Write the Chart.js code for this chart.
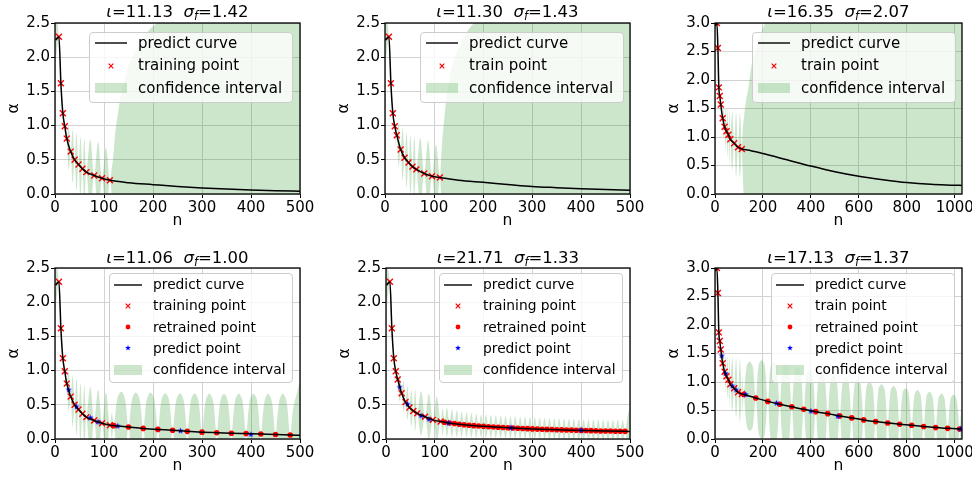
<!DOCTYPE html>
<html>
<head>
<meta charset="utf-8">
<title>GP fits of alpha vs n</title>
<script src="https://cdn.jsdelivr.net/npm/chart.js@4.4.1/dist/chart.umd.min.js"></script>
<style>
  html, body { margin:0; padding:0; background:#fff; }
  body { width:972px; height:477px; overflow:hidden; position:relative; font-family:"DejaVu Sans", sans-serif; }
  canvas.cv { position:absolute; }
  .ttl { position:absolute; text-align:center; font-size:16.5px; line-height:20px; color:#000; white-space:nowrap; }
  .ttl i { font-style:italic; }
  .ttl .sb { font-size:11.5px; position:relative; top:3px; font-style:italic; }
  .lg { position:absolute; box-sizing:border-box; background:rgba(255,255,255,0.8); border:1px solid #cccccc; border-radius:4px; }
  .lg .row { position:absolute; left:0; width:100%; white-space:nowrap; color:#000; }
  .lg svg { position:absolute; }
  .lg span { position:absolute; }
</style>
</head>
<body>
<script>
// ---------------- DATA ----------------
const iotaVals  = ['11.13', '11.30', '16.35', '11.06', '21.71', '17.13'];
const sigmaVals = ['1.42', '1.43', '2.07', '1.00', '1.33', '1.37'];

const legend1 = ['predict curve', 'training point', 'confidence interval'];
const legend2 = ['predict curve', 'train point', 'confidence interval'];
const legend3 = ['predict curve', 'train point', 'confidence interval'];
const legend4 = ['predict curve', 'training point', 'retrained point', 'predict point', 'confidence interval'];
const legend5 = ['predict curve', 'training point', 'retrained point', 'predict point', 'confidence interval'];
const legend6 = ['predict curve', 'train point', 'retrained point', 'predict point', 'confidence interval'];

const xTicks500  = [0, 100, 200, 300, 400, 500];
const xTicks1000 = [0, 200, 400, 600, 800, 1000];
const yTicks25   = [0, 0.5, 1.0, 1.5, 2.0, 2.5];
const yTicks30   = [0, 0.5, 1.0, 1.5, 2.0, 2.5, 3.0];

const trainN = [8, 12, 16, 20, 24, 32, 40, 48, 56, 64, 80, 96, 112];

// Panel 1
const curveN1 = [1, 8, 12, 16, 20, 24, 32, 40, 48, 56, 64, 80, 96, 112, 150, 200, 250, 300, 350, 400, 450, 500];
const curveA1 = [2.25, 2.30, 1.62, 1.18, 0.99, 0.81, 0.62, 0.50, 0.43, 0.37, 0.32, 0.27, 0.23, 0.20, 0.165, 0.137, 0.11, 0.088, 0.072, 0.059, 0.048, 0.04];
const trainA1 = [2.30, 1.62, 1.18, 0.99, 0.81, 0.62, 0.50, 0.43, 0.37, 0.32, 0.27, 0.23, 0.20];
const bandN1  = [1, 8, 10, 12, 14, 16, 18, 20, 22, 24, 28, 32, 36, 40, 44, 48, 52, 56, 60, 64, 72, 80, 88, 96, 104, 112, 116, 119, 123, 128, 133, 141, 150, 162, 174, 190, 208, 260, 350, 500];
const bandHi1 = [2.75, 2.30, 2.05, 1.62, 1.48, 1.18, 1.14, 0.99, 1.00, 0.81, 1.00, 0.62, 0.94, 0.50, 0.89, 0.43, 0.84, 0.37, 0.80, 0.32, 0.80, 0.27, 0.76, 0.23, 0.68, 0.20, 0.38, 0.55, 0.90, 1.15, 1.38, 1.65, 1.87, 2.07, 2.20, 2.38, 2.50, 2.80, 3.20, 3.70];
const bandLo1 = [1.90, 2.30, 1.85, 1.62, 1.28, 1.18, 1.00, 0.99, 0.80, 0.81, 0.35, 0.62, 0.16, 0.50, 0.05, 0.43, -0.05, 0.37, -0.10, 0.32, -0.20, 0.27, -0.25, 0.23, -0.30, 0.20, 0.00, -0.20, -0.45, -0.70, -0.95, -1.25, -1.50, -1.80, -2.00, -2.20, -2.40, -2.80, -3.20, -3.70];

// Panel 2
const curveN2 = [1, 8, 12, 16, 20, 24, 32, 40, 48, 56, 64, 80, 96, 112, 150, 200, 250, 300, 350, 400, 450, 500];
const curveA2 = [2.25, 2.30, 1.62, 1.18, 0.99, 0.86, 0.65, 0.53, 0.46, 0.40, 0.36, 0.30, 0.26, 0.24, 0.20, 0.17, 0.14, 0.11, 0.093, 0.078, 0.065, 0.054];
const trainA2 = [2.30, 1.62, 1.18, 0.99, 0.86, 0.65, 0.53, 0.46, 0.40, 0.36, 0.30, 0.26, 0.24];
const bandN2  = [1, 8, 10, 12, 14, 16, 18, 20, 22, 24, 28, 32, 36, 40, 44, 48, 52, 56, 60, 64, 72, 80, 88, 96, 104, 112, 114, 117, 121, 125, 131, 137, 145, 154, 167, 182, 230, 350, 500];
const bandHi2 = [2.75, 2.30, 2.05, 1.62, 1.48, 1.18, 1.14, 0.99, 1.02, 0.86, 1.02, 0.65, 0.96, 0.53, 0.90, 0.46, 0.86, 0.40, 0.83, 0.36, 0.82, 0.30, 0.78, 0.26, 0.72, 0.24, 0.45, 0.80, 1.10, 1.38, 1.65, 1.87, 2.05, 2.20, 2.37, 2.50, 2.80, 3.30, 3.80];
const bandLo2 = [1.90, 2.30, 1.85, 1.62, 1.28, 1.18, 1.00, 0.99, 0.72, 0.86, 0.40, 0.65, 0.20, 0.53, 0.10, 0.46, 0.00, 0.40, -0.05, 0.36, -0.15, 0.30, -0.20, 0.26, -0.25, 0.24, 0.05, -0.20, -0.45, -0.70, -1.00, -1.30, -1.60, -1.80, -2.00, -2.20, -2.60, -3.20, -3.70];

// Panel 3
const curveN3 = [1, 8, 12, 16, 20, 24, 32, 40, 48, 56, 64, 80, 96, 112, 150, 200, 300, 400, 500, 600, 700, 800, 900, 1000, 1030];
const curveA3 = [2.95, 3.00, 2.56, 1.87, 1.72, 1.57, 1.33, 1.18, 1.10, 1.04, 0.96, 0.89, 0.82, 0.79, 0.76, 0.71, 0.60, 0.49, 0.39, 0.31, 0.25, 0.20, 0.17, 0.155, 0.15];
const trainA3 = [3.00, 2.56, 1.87, 1.72, 1.57, 1.33, 1.18, 1.10, 1.04, 0.96, 0.89, 0.82, 0.79];
const bandN3  = [1, 8, 10, 12, 14, 16, 18, 20, 22, 24, 28, 32, 36, 40, 44, 48, 52, 56, 60, 64, 72, 80, 88, 96, 104, 112, 114, 117, 121, 126, 131, 138, 145, 152, 165, 179, 195, 210, 300, 600, 1030];
const bandHi3 = [3.20, 3.00, 2.85, 2.56, 2.25, 1.87, 1.85, 1.72, 1.70, 1.57, 1.62, 1.33, 1.55, 1.18, 1.52, 1.10, 1.50, 1.04, 1.47, 0.96, 1.45, 0.89, 1.43, 0.82, 1.42, 0.79, 1.00, 1.20, 1.35, 1.55, 1.68, 1.82, 2.05, 2.24, 2.47, 2.65, 2.85, 3.00, 3.50, 4.20, 4.60];
const bandLo3 = [2.80, 3.00, 2.70, 2.56, 2.10, 1.87, 1.75, 1.72, 1.60, 1.57, 1.28, 1.33, 0.95, 1.18, 0.78, 1.10, 0.65, 1.04, 0.52, 0.96, 0.42, 0.89, 0.30, 0.82, 0.30, 0.79, 0.55, 0.20, -0.10, -0.30, -0.50, -0.70, -0.90, -1.10, -1.30, -1.50, -1.70, -1.90, -2.50, -3.50, -4.00];

// Panel 4
const curveN4 = [1, 8, 12, 16, 20, 24, 32, 40, 48, 56, 64, 80, 96, 112, 120, 150, 180, 210, 240, 270, 300, 330, 360, 390, 420, 450, 480, 500];
const curveA4 = [2.25, 2.30, 1.62, 1.18, 0.99, 0.81, 0.62, 0.50, 0.43, 0.37, 0.32, 0.27, 0.23, 0.20, 0.195, 0.175, 0.155, 0.14, 0.128, 0.112, 0.10, 0.092, 0.085, 0.079, 0.073, 0.066, 0.058, 0.053];
const trainA4 = [2.30, 1.62, 1.18, 0.99, 0.81, 0.62, 0.50, 0.43, 0.37, 0.32, 0.27, 0.23, 0.20];
const retrainN4 = [120, 150, 180, 210, 240, 270, 300, 330, 360, 390, 420, 450, 480];
const retrainA4 = [0.195, 0.175, 0.155, 0.14, 0.128, 0.112, 0.10, 0.092, 0.085, 0.079, 0.073, 0.066, 0.058];
const predictN4 = [28, 44, 72, 88, 128, 256, 400];
const predictA4 = [0.72, 0.47, 0.31, 0.25, 0.19, 0.12, 0.068];
const bandN4  = [1, 8, 10, 12, 14, 16, 18, 20, 22, 24, 28, 32, 36, 40, 44, 48, 52, 56, 60, 64, 72, 80, 88, 96, 104, 112, 116, 486, 493, 500];
const bandHi4 = [2.75, 2.30, 2.05, 1.62, 1.48, 1.18, 1.14, 0.99, 1.00, 0.81, 0.98, 0.62, 0.92, 0.50, 0.88, 0.43, 0.82, 0.37, 0.78, 0.32, 0.76, 0.27, 0.72, 0.23, 0.68, 0.20, 0.38, 0.45, 0.65, 0.85];
const bandLo4 = [1.90, 2.30, 1.85, 1.62, 1.28, 1.18, 1.00, 0.99, 0.80, 0.81, 0.40, 0.62, 0.18, 0.50, 0.05, 0.43, -0.05, 0.37, -0.10, 0.32, -0.20, 0.27, -0.25, 0.23, -0.28, 0.20, 0.02, -0.35, -0.55, -0.75];
const lobeN4  = [127.5, 135, 142.5, 157.5, 165, 172.5, 187.5, 195, 202.5, 217.5, 225, 232.5, 247.5, 255, 262.5, 277.5, 285, 292.5, 307.5, 315, 322.5, 337.5, 345, 352.5, 367.5, 375, 382.5, 397.5, 405, 412.5, 427.5, 435, 442.5, 457.5, 465, 472.5];
const lobeHi4 = [0.60, 0.69, 0.60, 0.59, 0.68, 0.59, 0.58, 0.68, 0.58, 0.58, 0.67, 0.58, 0.57, 0.67, 0.57, 0.57, 0.67, 0.57, 0.56, 0.66, 0.56, 0.56, 0.66, 0.56, 0.56, 0.66, 0.56, 0.56, 0.66, 0.56, 0.55, 0.66, 0.55, 0.55, 0.66, 0.55];
const lobeLo4 = [-0.24, -0.32, -0.25, -0.27, -0.35, -0.28, -0.29, -0.37, -0.30, -0.31, -0.39, -0.32, -0.33, -0.41, -0.34, -0.35, -0.43, -0.36, -0.37, -0.45, -0.38, -0.38, -0.46, -0.39, -0.39, -0.47, -0.40, -0.40, -0.48, -0.41, -0.41, -0.49, -0.42, -0.42, -0.50, -0.43];

// Panel 5
const curveN5 = [1, 8, 12, 16, 20, 24, 32, 40, 48, 56, 64, 80, 96, 112, 120, 150, 200, 250, 300, 350, 400, 450, 490, 500];
const curveA5 = [2.25, 2.30, 1.62, 1.18, 0.99, 0.87, 0.67, 0.54, 0.46, 0.41, 0.375, 0.325, 0.28, 0.255, 0.245, 0.215, 0.185, 0.164, 0.148, 0.136, 0.126, 0.117, 0.112, 0.111];
const trainA5 = [2.30, 1.62, 1.18, 0.99, 0.87, 0.67, 0.54, 0.46, 0.41, 0.375, 0.325, 0.28, 0.255];
const retrainN5 = [120, 130, 140, 150, 160, 170, 180, 190, 200, 210, 220, 230, 240, 250, 260, 270, 280, 290, 300, 310, 320, 330, 340, 350, 360, 370, 380, 390, 400, 410, 420, 430, 440, 450, 460, 470, 480, 490];
const retrainA5 = [0.245, 0.235, 0.225, 0.215, 0.207, 0.20, 0.195, 0.19, 0.185, 0.18, 0.176, 0.172, 0.168, 0.164, 0.16, 0.157, 0.154, 0.151, 0.148, 0.145, 0.142, 0.14, 0.138, 0.136, 0.134, 0.132, 0.13, 0.128, 0.126, 0.124, 0.122, 0.12, 0.118, 0.117, 0.116, 0.114, 0.113, 0.112];
const predictN5 = [28, 44, 72, 88, 128, 256, 400];
const predictA5 = [0.76, 0.51, 0.34, 0.29, 0.235, 0.165, 0.13];
const bandN5  = [1, 8, 10, 12, 14, 16, 18, 20, 22, 24, 28, 32, 36, 40, 44, 48, 52, 56, 60, 64, 72, 80, 88, 96, 104, 112, 116, 495, 500];
const bandHi5 = [2.65, 2.30, 2.05, 1.62, 1.45, 1.18, 1.12, 0.99, 0.98, 0.87, 0.95, 0.67, 0.85, 0.54, 0.78, 0.46, 0.72, 0.41, 0.72, 0.375, 0.70, 0.325, 0.66, 0.28, 0.62, 0.255, 0.45, 0.33, 0.48];
const bandLo5 = [1.90, 2.30, 1.85, 1.62, 1.30, 1.18, 1.02, 0.99, 0.86, 0.87, 0.55, 0.67, 0.40, 0.54, 0.28, 0.46, 0.18, 0.41, 0.12, 0.375, 0.05, 0.325, 0.00, 0.28, -0.02, 0.255, 0.05, -0.10, -0.25];
const lobeN5  = [125, 135, 145, 155, 165, 175, 185, 195, 205, 215, 225, 235, 245, 255, 265, 275, 285, 295, 305, 315, 325, 335, 345, 355, 365, 375, 385, 395, 405, 415, 425, 435, 445, 455, 465, 475, 485];
const lobeHi5 = [0.46, 0.44, 0.42, 0.40, 0.39, 0.38, 0.37, 0.36, 0.355, 0.35, 0.345, 0.34, 0.335, 0.33, 0.33, 0.325, 0.32, 0.32, 0.315, 0.31, 0.31, 0.305, 0.30, 0.30, 0.30, 0.295, 0.295, 0.29, 0.29, 0.29, 0.285, 0.285, 0.285, 0.28, 0.28, 0.28, 0.28];
const lobeLo5 = [0.03, 0.03, 0.03, 0.025, 0.025, 0.02, 0.02, 0.02, 0.015, 0.015, 0.01, 0.01, 0.005, 0.005, 0.0, 0.0, 0.0, -0.005, -0.005, -0.01, -0.01, -0.015, -0.015, -0.02, -0.02, -0.02, -0.025, -0.025, -0.03, -0.03, -0.03, -0.035, -0.035, -0.04, -0.04, -0.04, -0.045];

// Panel 6
const curveN6 = [1, 8, 12, 16, 20, 24, 32, 40, 48, 56, 64, 80, 96, 112, 120, 170, 220, 270, 320, 370, 420, 470, 520, 570, 620, 670, 720, 770, 820, 870, 920, 970, 1020, 1030];
const curveA6 = [2.95, 3.00, 2.56, 1.87, 1.72, 1.57, 1.33, 1.18, 1.10, 1.04, 0.96, 0.89, 0.82, 0.79, 0.78, 0.72, 0.66, 0.61, 0.565, 0.52, 0.48, 0.445, 0.405, 0.37, 0.335, 0.305, 0.28, 0.26, 0.24, 0.22, 0.20, 0.187, 0.175, 0.172];
const trainA6 = [3.00, 2.56, 1.87, 1.72, 1.57, 1.33, 1.18, 1.10, 1.04, 0.96, 0.89, 0.82, 0.79];
const retrainN6 = [120, 170, 220, 270, 320, 370, 420, 470, 520, 570, 620, 670, 720, 770, 820, 870, 920, 970, 1020];
const retrainA6 = [0.78, 0.72, 0.66, 0.61, 0.565, 0.52, 0.48, 0.445, 0.405, 0.37, 0.335, 0.305, 0.28, 0.26, 0.24, 0.22, 0.20, 0.187, 0.175];
const predictN6 = [28, 44, 72, 88, 128, 256, 400, 512, 1024];
const predictA6 = [1.46, 1.15, 0.93, 0.86, 0.78, 0.63, 0.49, 0.40, 0.175];
const bandN6  = [1, 8, 10, 12, 14, 16, 18, 20, 22, 24, 28, 32, 36, 40, 44, 48, 52, 56, 60, 64, 72, 80, 88, 96, 104, 112, 116, 1025, 1030];
const bandHi6 = [3.20, 3.00, 2.85, 2.56, 2.25, 1.87, 1.85, 1.72, 1.70, 1.57, 1.58, 1.33, 1.50, 1.18, 1.46, 1.10, 1.45, 1.04, 1.44, 0.96, 1.43, 0.89, 1.42, 0.82, 1.40, 0.79, 1.10, 0.40, 0.55];
const bandLo6 = [2.80, 3.00, 2.70, 2.56, 2.10, 1.87, 1.75, 1.72, 1.60, 1.57, 1.30, 1.33, 1.00, 1.18, 0.82, 1.10, 0.70, 1.04, 0.60, 0.96, 0.48, 0.89, 0.38, 0.82, 0.30, 0.79, 0.46, -0.05, -0.20];
const lobeN6  = [132.5, 145, 157.5, 182.5, 195, 207.5, 232.5, 245, 257.5, 282.5, 295, 307.5, 332.5, 345, 357.5, 382.5, 395, 407.5, 432.5, 445, 457.5, 482.5, 495, 507.5, 532.5, 545, 557.5, 582.5, 595, 607.5, 632.5, 645, 657.5, 682.5, 695, 707.5, 732.5, 745, 757.5, 782.5, 795, 807.5, 832.5, 845, 857.5, 882.5, 895, 907.5, 932.5, 945, 957.5, 982.5, 995, 1007.5];
const lobeHi6 = [1.29, 1.36, 1.27, 1.31, 1.38, 1.29, 1.29, 1.36, 1.27, 1.25, 1.32, 1.23, 1.20, 1.27, 1.18, 1.15, 1.22, 1.13, 1.10, 1.17, 1.08, 1.05, 1.12, 1.03, 1.01, 1.08, 0.99, 0.97, 1.04, 0.95, 0.93, 1.00, 0.91, 0.89, 0.96, 0.87, 0.86, 0.93, 0.84, 0.82, 0.89, 0.80, 0.79, 0.86, 0.77, 0.76, 0.83, 0.74, 0.73, 0.80, 0.71, 0.71, 0.78, 0.69];
const lobeLo6 = [0.23, 0.14, 0.21, 0.09, 0.00, 0.07, 0.00, -0.09, -0.02, -0.06, -0.15, -0.08, -0.10, -0.19, -0.12, -0.13, -0.22, -0.15, -0.16, -0.25, -0.18, -0.18, -0.27, -0.20, -0.22, -0.31, -0.24, -0.25, -0.34, -0.27, -0.27, -0.36, -0.29, -0.29, -0.38, -0.31, -0.30, -0.39, -0.32, -0.30, -0.39, -0.32, -0.31, -0.40, -0.33, -0.32, -0.41, -0.34, -0.32, -0.41, -0.34, -0.33, -0.42, -0.35];

// ---------------- STYLE / LAYOUT ----------------
const RED = '#ff0000', BLUE = '#0000ff', BAND = 'rgba(0,128,0,0.2)';
const FONT = 'DejaVu Sans';
Chart.defaults.font.family = FONT;

const PANELS = [
  {l:55,  t:23,  r:300, b:194, xmax:500,  xTicks:xTicks500,  ymax:2.5, yTicks:yTicks25, ttlTop:1.5,
   curve:[curveN1, curveA1], train:[trainN, trainA1], band:[bandN1, bandHi1, bandLo1],
   legend:{x:89, y:32, w:204, h:71, labels:legend1, kinds:['line','x','patch'], big:true}},
  {l:385, t:23,  r:630, b:194, xmax:500,  xTicks:xTicks500,  ymax:2.5, yTicks:yTicks25, ttlTop:1.5,
   curve:[curveN2, curveA2], train:[trainN, trainA2], band:[bandN2, bandHi2, bandLo2],
   legend:{x:420, y:32, w:204, h:71, labels:legend2, kinds:['line','x','patch'], big:true}},
  {l:715, t:23,  r:962, b:194, xmax:1030, xTicks:xTicks1000, ymax:3.0, yTicks:yTicks30, ttlTop:1.5,
   curve:[curveN3, curveA3], train:[trainN, trainA3], band:[bandN3, bandHi3, bandLo3],
   legend:{x:752, y:32, w:204, h:71, labels:legend3, kinds:['line','x','patch'], big:true}},
  {l:55,  t:268, r:300, b:439, xmax:500,  xTicks:xTicks500,  ymax:2.5, yTicks:yTicks25, ttlTop:248,
   curve:[curveN4, curveA4], train:[trainN, trainA4], retrain:[retrainN4, retrainA4], predict:[predictN4, predictA4],
   band:[bandN4, bandHi4, bandLo4], lobes:[lobeN4, lobeHi4, lobeLo4],
   legend:{x:109, y:273, w:184, h:110, labels:legend4, kinds:['line','x','dot','star','patch'], big:false}},
  {l:386, t:268, r:630, b:439, xmax:500,  xTicks:xTicks500,  ymax:2.5, yTicks:yTicks25, ttlTop:248,
   curve:[curveN5, curveA5], train:[trainN, trainA5], retrain:[retrainN5, retrainA5], predict:[predictN5, predictA5],
   band:[bandN5, bandHi5, bandLo5], lobes:[lobeN5, lobeHi5, lobeLo5],
   legend:{x:439, y:273, w:184, h:110, labels:legend5, kinds:['line','x','dot','star','patch'], big:false}},
  {l:715, t:268, r:962, b:439, xmax:1030, xTicks:xTicks1000, ymax:3.0, yTicks:yTicks30, ttlTop:248,
   curve:[curveN6, curveA6], train:[trainN, trainA6], retrain:[retrainN6, retrainA6], predict:[predictN6, predictA6],
   band:[bandN6, bandHi6, bandLo6], lobes:[lobeN6, lobeHi6, lobeLo6],
   legend:{x:771, y:273, w:184, h:110, labels:legend6, kinds:['line','x','dot','star','patch'], big:false}}
];

const PAD_L = 55, PAD_T = 10, PAD_R = 18, PAD_B = 36;

function starPath(cx, cy, r) {
  const pts = [];
  for (let i = 0; i < 10; i++) {
    const a = -Math.PI / 2 + i * Math.PI / 5;
    const rr = (i % 2) ? r * 0.42 : r;
    pts.push([cx + rr * Math.cos(a), cy + rr * Math.sin(a)]);
  }
  return pts;
}
function starImage(color, r) {
  const s = Math.ceil(r * 2 + 2);
  const c = document.createElement('canvas');
  c.width = s; c.height = s;
  const g = c.getContext('2d');
  g.fillStyle = color;
  g.beginPath();
  starPath(s / 2, s / 2, r).forEach((p, i) => i ? g.lineTo(p[0], p[1]) : g.moveTo(p[0], p[1]));
  g.closePath(); g.fill();
  return c;
}
const STAR = starImage(BLUE, 3.3);

const xy = (N, A) => N.map((n, i) => ({x: n, y: A[i]}));

function bandRows(p) {
  const rows = [];
  p.band[0].forEach((n, i) => rows.push([n, p.band[1][i], p.band[2][i]]));
  if (p.retrain) p.retrain[0].forEach((n, i) => rows.push([n, p.retrain[1][i], p.retrain[1][i]]));
  if (p.lobes) p.lobes[0].forEach((n, i) => rows.push([n, p.lobes[1][i], p.lobes[2][i]]));
  rows.sort((a, b) => a[0] - b[0]);
  return rows;
}

const framePlugin = {
  id: 'frame',
  afterDraw(chart) {
    const {ctx, chartArea: a} = chart;
    ctx.save();
    ctx.strokeStyle = '#000';
    ctx.lineWidth = 1.3;
    ctx.strokeRect(a.left, a.top, a.right - a.left, a.bottom - a.top);
    ctx.restore();
  }
};

function legendSVG(kind, w) {
  const h = 14, cx = w / 2, cy = h / 2;
  let inner = '';
  if (kind === 'line') inner = `<line x1="0" y1="${cy}" x2="${w}" y2="${cy}" stroke="#000" stroke-width="1.4"/>`;
  if (kind === 'x') inner = `<path d="M${cx-2.3} ${cy-2.3}L${cx+2.3} ${cy+2.3}M${cx-2.3} ${cy+2.3}L${cx+2.3} ${cy-2.3}" stroke="${RED}" stroke-width="1.2"/>`;
  if (kind === 'dot') inner = `<circle cx="${cx}" cy="${cy}" r="2.4" fill="${RED}"/>`;
  if (kind === 'star') inner = `<polygon points="${starPath(cx, cy, 3).map(p => p[0].toFixed(2) + ',' + p[1].toFixed(2)).join(' ')}" fill="${BLUE}"/>`;
  if (kind === 'patch') inner = `<rect x="0" y="${cy-5}" width="${w}" height="10" fill="${BAND}"/>`;
  return `<svg width="${w}" height="${h}" viewBox="0 0 ${w} ${h}" style="left:LEFTpx;top:TOPpx">${inner}</svg>`;
}

function makeLegend(L) {
  const fs = L.big ? 15 : 13.8;
  const rowH = L.big ? 22.5 : 21.25;
  const first = L.big ? 11 : 11.7;
  const hL = L.big ? 6 : 5, hW = L.big ? 32 : 28, tL = L.big ? 49 : 44;
  const box = document.createElement('div');
  box.className = 'lg';
  box.style.cssText = `left:${L.x}px;top:${L.y}px;width:${L.w}px;height:${L.h}px;`;
  let html = '';
  L.labels.forEach((lab, i) => {
    const c = first + i * rowH;
    const top = c - rowH / 2 - 1;
    const svg = legendSVG(L.kinds[i], hW).replace('LEFTpx', (hL - 1) + 'px').replace('TOPpx', ((rowH - 14) / 2) + 'px');
    html += `<div class="row" style="top:${top}px;height:${rowH}px;line-height:${rowH}px;font-size:${fs}px">${svg}<span style="left:${tL - 1}px">${lab}</span></div>`;
  });
  box.innerHTML = html;
  document.body.appendChild(box);
}

function makeTitle(p, k) {
  const d = document.createElement('div');
  d.className = 'ttl';
  d.style.cssText = `left:${p.l}px;top:${p.ttlTop}px;width:${p.r - p.l}px;`;
  d.innerHTML = `<i>ι</i>=${iotaVals[k]}&nbsp;&nbsp;<i>σ</i><span class="sb">f</span>=${sigmaVals[k]}`;
  document.body.appendChild(d);
}

function makeChart(p) {
  const W = (p.r - p.l) + PAD_L + PAD_R;
  const H = (p.b - p.t) + PAD_T + PAD_B;
  const cv = document.createElement('canvas');
  cv.className = 'cv';
  cv.width = W; cv.height = H;
  cv.style.left = (p.l - PAD_L) + 'px';
  cv.style.top = (p.t - PAD_T) + 'px';
  cv.style.width = W + 'px';
  cv.style.height = H + 'px';
  document.body.appendChild(cv);

  const rows = bandRows(p);
  const datasets = [
    {data: rows.map(r => ({x: r[0], y: r[1]})), fill: '+1', backgroundColor: BAND, borderWidth: 0,
     pointRadius: 0, tension: 0.35, order: 10},
    {data: rows.map(r => ({x: r[0], y: r[2]})), fill: false, borderWidth: 0,
     pointRadius: 0, tension: 0.35, order: 11},
    {data: xy(p.curve[0], p.curve[1]), borderColor: '#000', borderWidth: 1.5, pointRadius: 0,
     cubicInterpolationMode: 'monotone', fill: false, order: 0},
    {data: xy(p.train[0], p.train[1]), showLine: false, pointStyle: 'crossRot', pointRadius: 4.2,
     borderColor: RED, backgroundColor: RED, pointBorderWidth: 1.4, order: 3}
  ];
  if (p.retrain) datasets.push({data: xy(p.retrain[0], p.retrain[1]), showLine: false, pointStyle: 'circle',
     pointRadius: 2.8, borderColor: RED, backgroundColor: RED, pointBorderWidth: 0, order: 2});
  if (p.predict) datasets.push({data: xy(p.predict[0], p.predict[1]), showLine: false, pointStyle: STAR,
     order: 1});

  const tickFont = {family: FONT, size: 15};
  const gridOpts = {color: '#d2d2d2', lineWidth: 1, drawTicks: true, tickLength: 4, tickColor: '#000', tickWidth: 1};
  new Chart(cv, {
    type: 'line',
    data: {datasets},
    plugins: [framePlugin],
    options: {
      responsive: false, animation: false, events: [],
      layout: {padding: {left: 0, top: PAD_T, right: PAD_R, bottom: 0}},
      plugins: {legend: {display: false}, tooltip: {enabled: false}, title: {display: false}},
      scales: {
        x: {
          type: 'linear', min: 0, max: p.xmax,
          afterBuildTicks: s => { s.ticks = p.xTicks.map(v => ({value: v})); },
          ticks: {autoSkip: false, maxRotation: 0, color: '#000', font: tickFont, padding: 1, callback: v => String(v)},
          grid: gridOpts,
          border: {display: false},
          title: {display: true, text: 'n', color: '#000', font: {family: FONT, size: 15.5}, padding: {top: 0, bottom: 0}},
          afterFit: s => { s.height = PAD_B; s.paddingLeft = 0; s.paddingRight = 0; }
        },
        y: {
          type: 'linear', min: 0, max: p.ymax,
          afterBuildTicks: s => { s.ticks = p.yTicks.map(v => ({value: v})); },
          ticks: {autoSkip: false, color: '#000', font: tickFont, padding: 1, callback: v => Number(v).toFixed(1)},
          grid: gridOpts,
          border: {display: false},
          title: {display: true, text: 'α', color: '#000', font: {family: FONT, size: 15.5}, padding: {top: 5, bottom: 0}},
          afterFit: s => { s.width = PAD_L; s.paddingTop = 0; s.paddingBottom = 0; }
        }
      }
    }
  });
}

PANELS.forEach((p, k) => {
  makeChart(p);
  makeTitle(p, k);
  makeLegend(p.legend);
});
</script>
</body>
</html>
